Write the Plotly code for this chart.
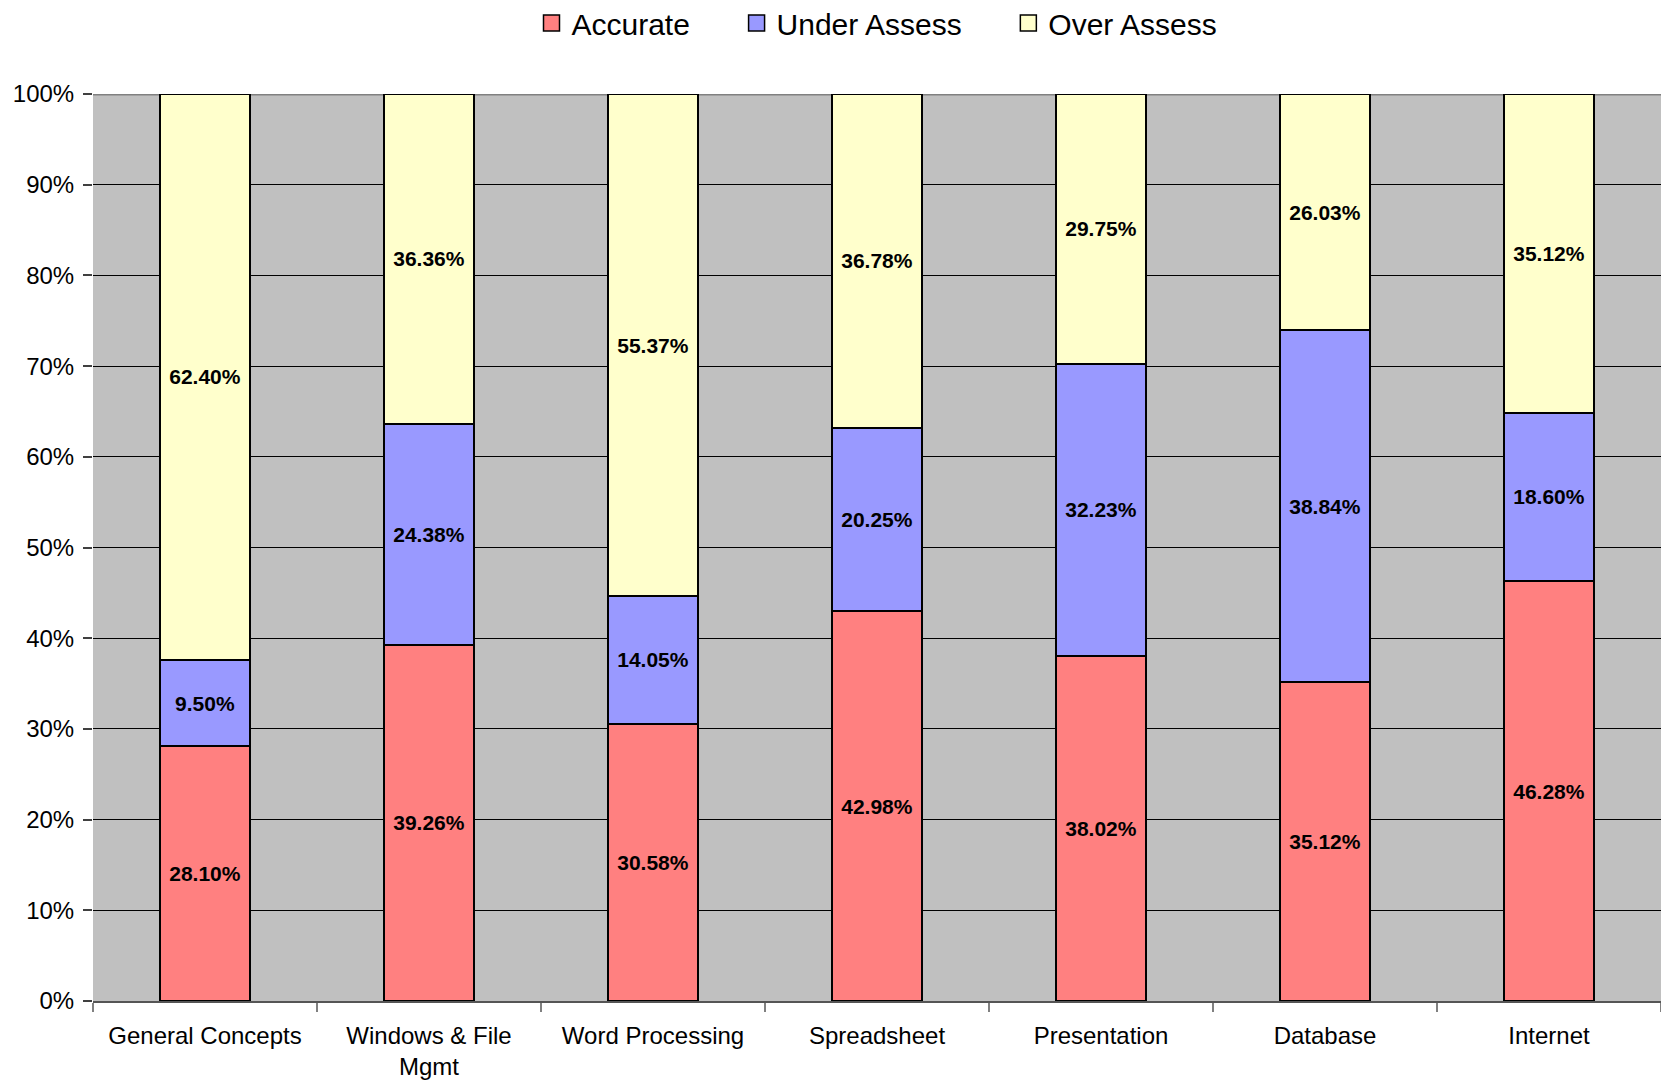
import plotly.graph_objects as go

categories = ["General Concepts", "Windows & File<br>Mgmt", "Word Processing", "Spreadsheet",
              "Presentation", "Database", "Internet"]
accurate = [28.10, 39.26, 30.58, 42.98, 38.02, 35.12, 46.28]
under_assess = [9.50, 24.38, 14.05, 20.25, 32.23, 38.84, 18.60]
over_assess = [62.40, 36.36, 55.37, 36.78, 29.75, 26.03, 35.12]
y_ticks = [0, 10, 20, 30, 40, 50, 60, 70, 80, 90, 100]

series = [
    ("Accurate", accurate, "#FF8080"),
    ("Under Assess", under_assess, "#9999FF"),
    ("Over Assess", over_assess, "#FFFFCC"),
]

fig = go.Figure()
for name, vals, col in series:
    fig.add_trace(go.Bar(
        name=name, x=categories, y=vals, showlegend=False,
        marker=dict(color=col, line=dict(color="black", width=2)),
        texttemplate="%{y:.2f}%", textposition="inside", insidetextanchor="middle",
        textangle=0, constraintext="none",
        textfont=dict(family="Liberation Sans, Arial, sans-serif", size=21, color="black", weight="bold"),
        hoverinfo="skip",
    ))

# legend entries (square swatches)
pad = "\u00a0" * 5
for i, (name, vals, col) in enumerate(series):
    fig.add_trace(go.Scatter(
        name=name + (pad if i < len(series) - 1 else ""), x=[categories[0]], y=[None],
        mode="markers", showlegend=True, hoverinfo="skip",
        marker=dict(symbol="square", size=16, color=col, line=dict(color="black", width=1.5)),
    ))

fig.update_layout(
    barmode="stack", bargap=0.6,
    width=1661, height=1087,
    margin=dict(l=93, r=0, t=94, b=86),
    paper_bgcolor="white", plot_bgcolor="#C0C0C0",
    font=dict(family="Liberation Sans, Arial, sans-serif", color="black", size=24),
    legend=dict(orientation="h", x=0.5, xanchor="center", y=1 - 23 / 1087, yanchor="middle",
                yref="container",
                font=dict(size=30), traceorder="normal", itemwidth=30, bgcolor="rgba(0,0,0,0)",
                itemsizing="trace"),
    showlegend=True,
)
fig.update_xaxes(
    tickson="boundaries", ticks="outside", ticklen=9, tickcolor="#808080", tickwidth=2,
    showline=True, linecolor="#555555", linewidth=2, showgrid=False,
    tickfont=dict(size=24), automargin=False, ticklabelstandoff=12,
)
fig.update_yaxes(
    range=[0, 100], tickvals=y_ticks, ticktext=[f"{v}%" for v in y_ticks],
    ticks="outside", ticklen=9, tickcolor="#404040", tickwidth=2,
    showgrid=True, gridcolor="black", gridwidth=1, zeroline=False, showline=False,
    tickfont=dict(size=24), automargin=False, ticklabelstandoff=4,
)
fig.add_shape(type="line", xref="paper", yref="y", x0=0, x1=1, y0=100, y1=100,
              line=dict(color="#808080", width=3), layer="below")
fig.write_html("out.html", config={"displayModeBar": False},
               post_script="document.body.style.margin='0';document.body.style.overflow='hidden';")
